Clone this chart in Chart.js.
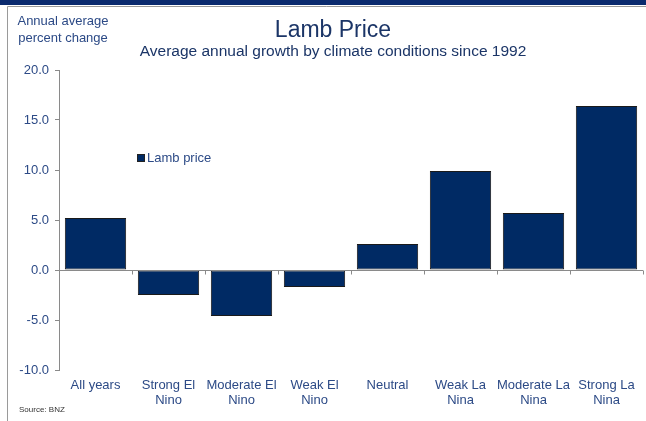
<!DOCTYPE html>
<html>
<head>
<meta charset="utf-8">
<script src="https://cdn.jsdelivr.net/npm/chart.js@4.4.1/dist/chart.umd.min.js"></script>
<style>
  html, body { margin: 0; padding: 0; background: #fff; }
  #wrap { width: 646px; height: 421px; position: relative; }
</style>
</head>
<body>
<div id="wrap"><canvas id="chart" width="646" height="421"></canvas></div>
<script>
// chart data
const categories = [
  ["All years"],
  ["Strong El", "Nino"],
  ["Moderate El", "Nino"],
  ["Weak El", "Nino"],
  ["Neutral"],
  ["Weak La", "Nina"],
  ["Moderate La", "Nina"],
  ["Strong La", "Nina"]
];
const lambPrice = [5.2, -2.5, -4.6, -1.7, 2.6, 9.9, 5.7, 16.4];
const yMin = -10;
const yMax = 20;
const yStep = 5;

const navy = "#002A64";
const textBlue = "#2C4A86";
const fontFamily = "'Liberation Sans', Arial, sans-serif";

// frame, titles, legend, zero line
const decorations = {
  id: "decorations",
  beforeDraw(chart) {
    const ctx = chart.ctx;
    ctx.save();
    ctx.fillStyle = "#fff";
    ctx.fillRect(0, 0, chart.width, chart.height);
    ctx.fillStyle = "#0A2A6E";
    ctx.fillRect(0, 0, chart.width, 5);
    ctx.strokeStyle = "#9a9a9a";
    ctx.lineWidth = 1;
    ctx.beginPath();
    ctx.moveTo(7.5, chart.height);
    ctx.lineTo(7.5, 6.5);
    ctx.lineTo(chart.width, 6.5);
    ctx.stroke();
    ctx.restore();
  },
  afterDatasetsDraw(chart) {
    const ctx = chart.ctx;
    const x = chart.scales.x;
    const y = chart.scales.y;
    const zero = Math.round(y.getPixelForValue(0)) + 0.5;
    ctx.save();
    ctx.strokeStyle = "#8a8a8a";
    ctx.lineWidth = 1;
    ctx.beginPath();
    ctx.moveTo(chart.chartArea.left, zero);
    ctx.lineTo(chart.chartArea.right, zero);
    const n = categories.length;
    for (let i = 1; i <= n; i++) {
      const px = Math.round(x.getPixelForValue(i - 0.5)) + 0.5;
      ctx.moveTo(px, zero);
      ctx.lineTo(px, zero + 4);
    }
    ctx.stroke();

    // titles
    ctx.textAlign = "center";
    ctx.textBaseline = "middle";
    ctx.fillStyle = "#1B3567";
    ctx.font = "23px " + fontFamily;
    ctx.fillText("Lamb Price", 333, 31);
    ctx.font = "15.5px " + fontFamily;
    ctx.fillText("Average annual growth by climate conditions since 1992", 333, 52);

    ctx.fillStyle = textBlue;
    ctx.font = "13px " + fontFamily;
    ctx.fillText("Annual average", 63, 21);
    ctx.fillText("percent change", 63, 38);

    ctx.textAlign = "left";
    ctx.fillStyle = "#333";
    ctx.font = "8px " + fontFamily;
    ctx.fillText("Source: BNZ", 19, 410);

    // legend
    const ds = chart.data.datasets[0];
    ctx.fillStyle = ds.backgroundColor;
    ctx.strokeStyle = "#222";
    ctx.fillRect(137, 154, 8, 8);
    ctx.strokeRect(137.5, 154.5, 7, 7);
    ctx.fillStyle = textBlue;
    ctx.font = "13px " + fontFamily;
    ctx.fillText(ds.label, 147, 158.5);
    ctx.restore();
  }
};

new Chart(document.getElementById("chart"), {
  type: "bar",
  data: {
    labels: categories,
    datasets: [
      {
        label: "Lamb price",
        data: lambPrice,
        backgroundColor: navy,
        borderColor: "#1a1a1a",
        borderWidth: 1,
        borderSkipped: false,
        categoryPercentage: 0.84,
        barPercentage: 1
      }
    ]
  },
  options: {
    responsive: false,
    animation: false,
    layout: { padding: { top: 70, right: 3, left: 0, bottom: 0 } },
    plugins: {
      legend: { display: false },
      tooltip: { enabled: false }
    },
    scales: {
      x: {
        grid: { display: false },
        border: { display: false },
        ticks: {
          color: textBlue,
          font: { family: fontFamily, size: 13, lineHeight: 1.15 },
          padding: 0,
          maxRotation: 0,
          autoSkip: false
        },
        afterFit(scale) { scale.height = 51; }
      },
      y: {
        min: yMin,
        max: yMax,
        grid: { drawOnChartArea: false, tickLength: 4, color: "#8a8a8a" },
        border: { color: "#8a8a8a" },
        ticks: {
          stepSize: yStep,
          color: textBlue,
          font: { family: fontFamily, size: 13 },
          padding: 6,
          callback: (v) => v.toFixed(1)
        },
        afterFit(scale) { scale.width = 59; }
      }
    }
  },
  plugins: [decorations]
});
</script>
</body>
</html>
